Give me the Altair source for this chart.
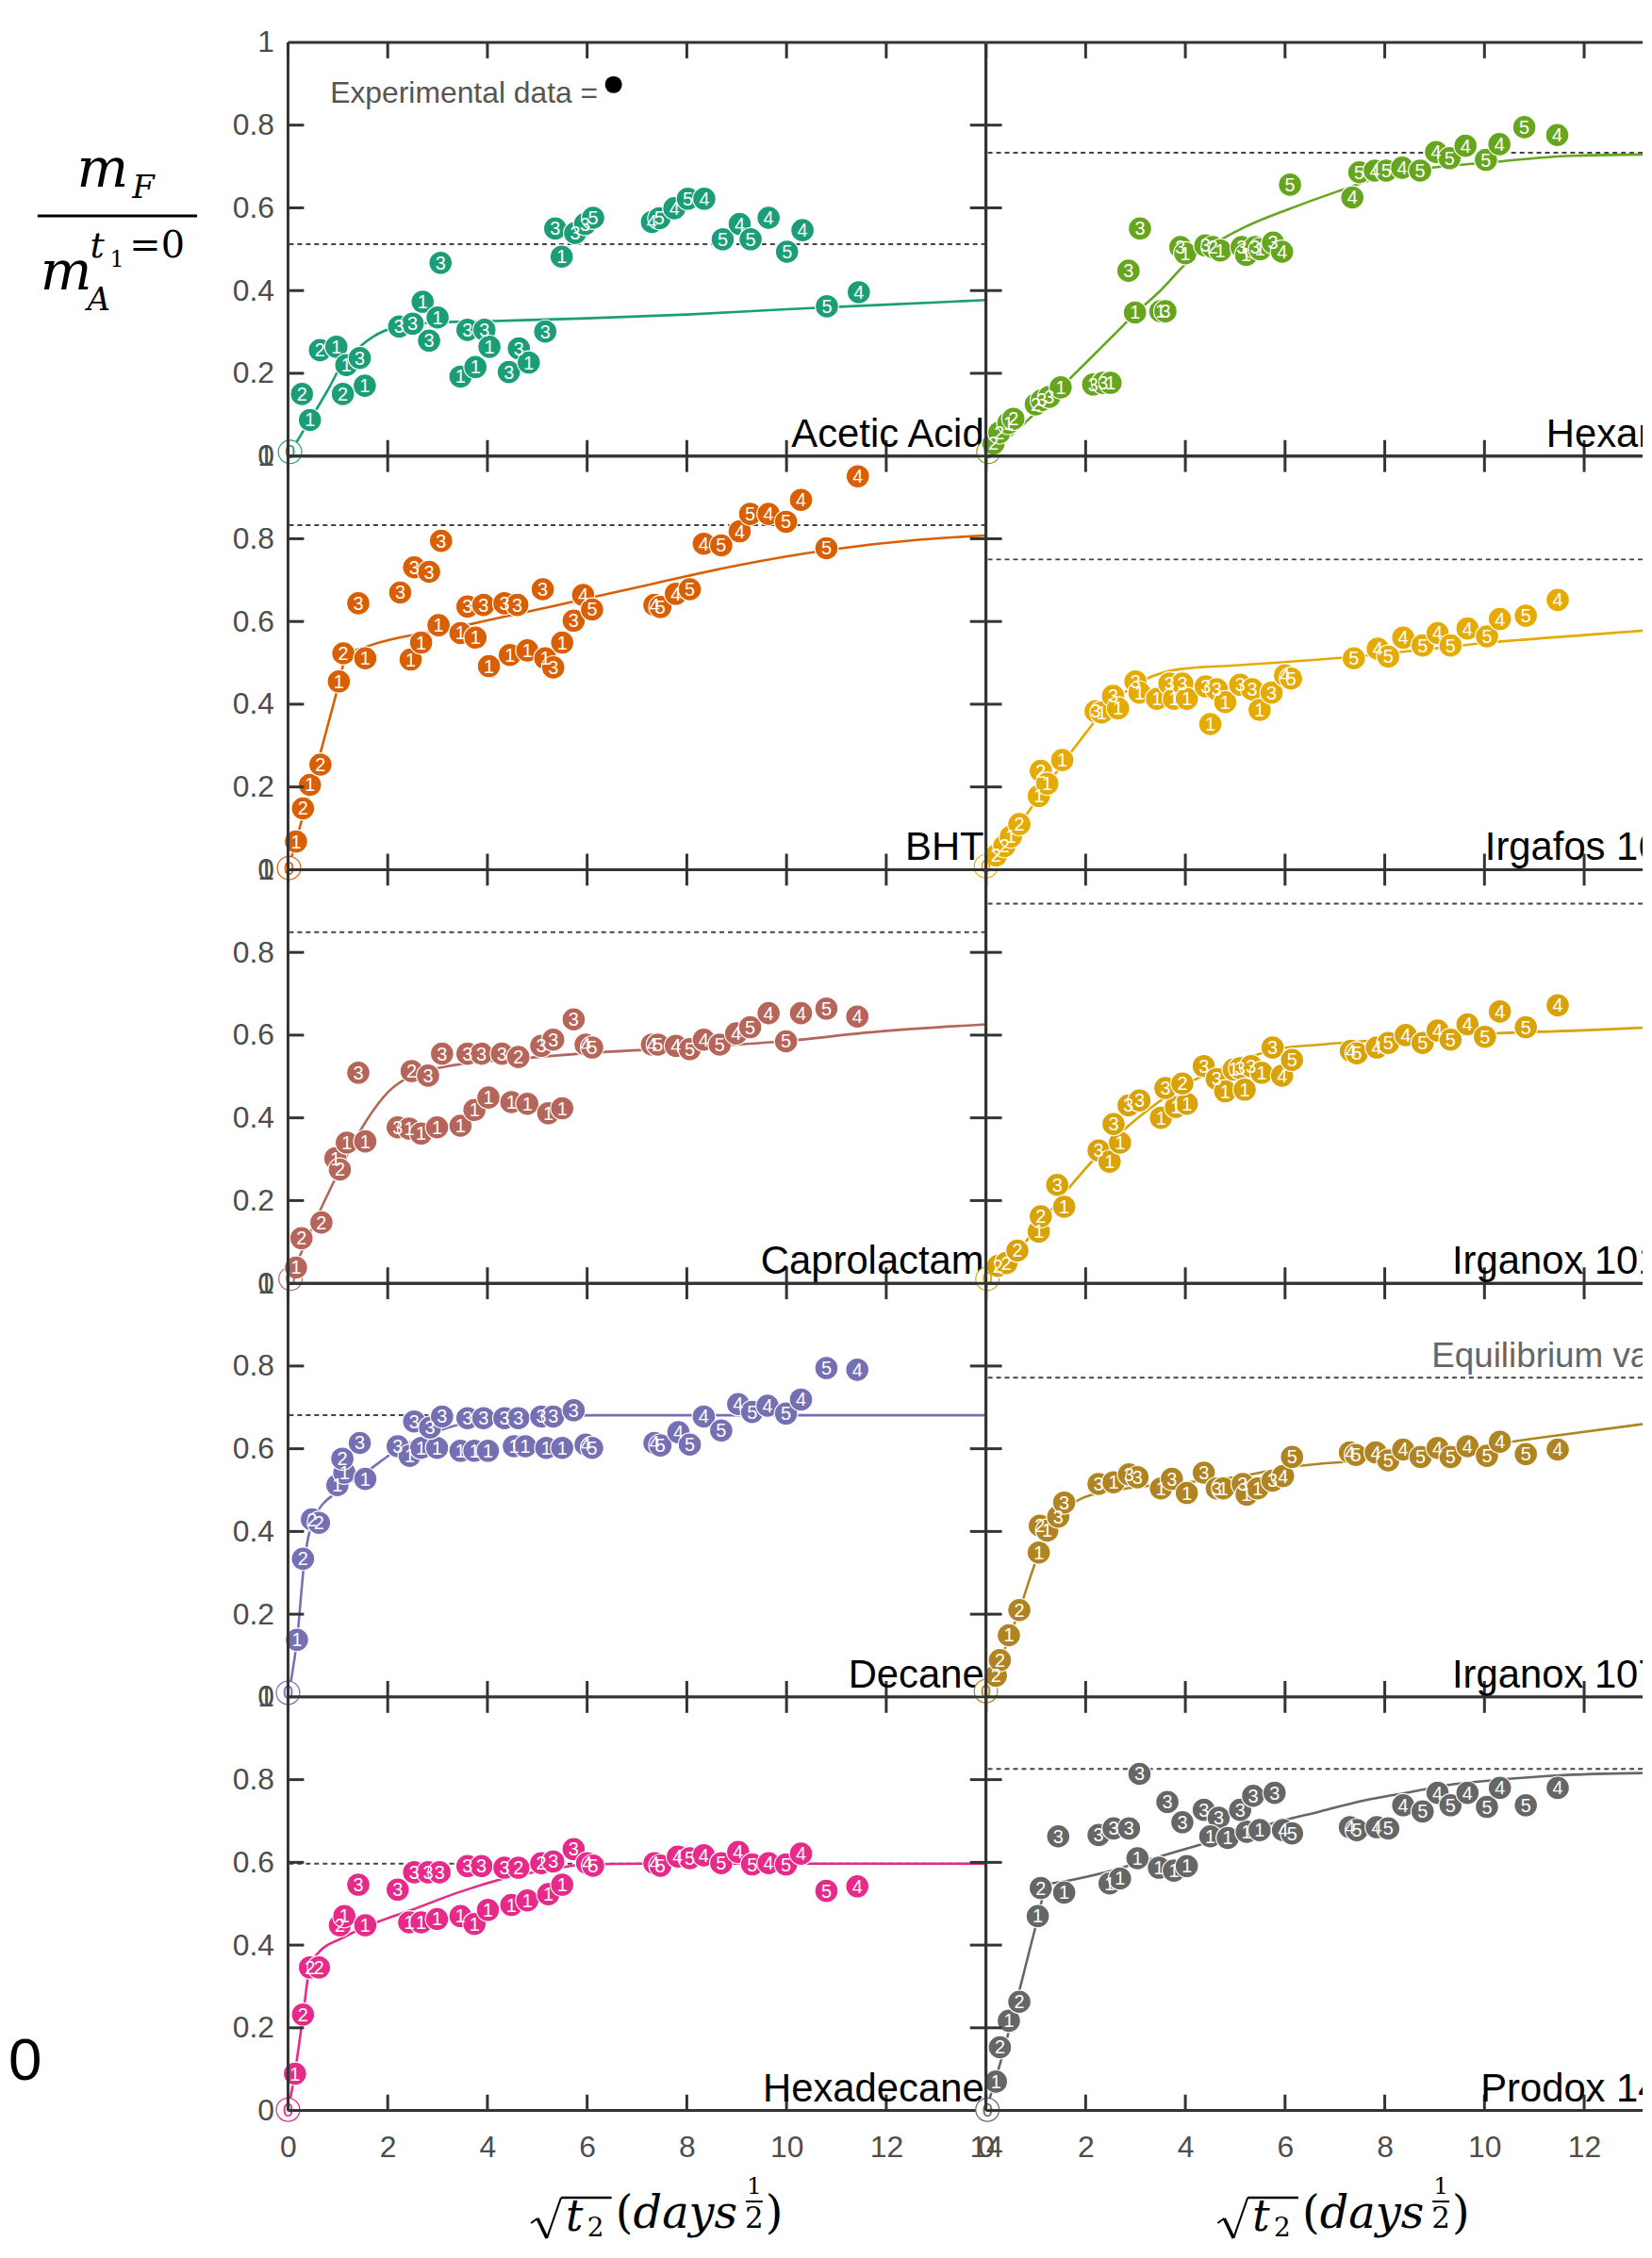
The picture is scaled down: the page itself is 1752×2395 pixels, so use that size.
import altair as alt
import pandas as pd

# ---------------- style constants ----------------
FONT = "Liberation Sans"
NARROW = "Liberation Sans Narrow, Liberation Sans"
MATH = "DejaVu Serif"
AXIS_GRAY = "#4d4d4d"
FRAME = "#333333"
PX = 744 / 14.0          # pixels per x unit
H = 441
W_LEFT = 744
W_RIGHT = 700
TICK = 17

# ---------------- data ----------------
X_TICKS = [0, 2, 4, 6, 8, 10, 12, 14]
Y_TICKS = [0.2, 0.4, 0.6, 0.8]
Y_LABELS = [0, 0.2, 0.4, 0.6, 0.8, 1]

NAMES = ["Acetic Acid", "Hexane", "BHT", "Irgafos 168", "Caprolactam",
         "Irganox 1010", "Decane", "Irganox 1076", "Hexadecane", "Prodox 146"]
COLORS = ["#1b9e77", "#66a61e", "#d95f02", "#e6ab02", "#b5655a",
          "#d9a307", "#7570b3", "#b08420", "#e7298a", "#666666"]
EQUILIBRIUM = [0.512, 0.733, 0.833, 0.750, 0.849, 0.918, 0.681, 0.772, 0.597, 0.826]

ACETIC_PTS = [
    (0.04, 0.01, "0"), (0.28, 0.15, "2"), (0.44, 0.087, "1"), (0.64, 0.256, "2"), (0.97, 0.264, "1"),
    (1.1, 0.15, "2"), (1.17, 0.22, "1"), (1.44, 0.237, "3"), (1.54, 0.17, "1"),
    (2.23, 0.313, "3"), (2.5, 0.32, "3"), (2.7, 0.373, "1"), (2.83, 0.279, "3"), (3.0, 0.335, "1"), (3.06, 0.467, "3"),
    (3.46, 0.192, "1"), (3.6, 0.305, "3"), (3.76, 0.215, "1"), (3.94, 0.305, "3"), (4.04, 0.264, "1"),
    (4.43, 0.203, "3"), (4.63, 0.26, "3"), (4.83, 0.226, "1"), (5.16, 0.301, "3"),
    (5.36, 0.55, "3"), (5.49, 0.482, "1"), (5.76, 0.539, "3"), (5.96, 0.561, "3"), (6.12, 0.576, "5"),
    (7.3, 0.566, "4"), (7.45, 0.575, "5"), (7.75, 0.599, "4"), (8.02, 0.622, "5"), (8.35, 0.622, "4"),
    (8.72, 0.524, "5"), (9.06, 0.561, "4"), (9.28, 0.524, "5"), (9.64, 0.576, "4"), (10.01, 0.494, "5"),
    (10.32, 0.546, "4"), (10.81, 0.362, "5"), (11.45, 0.396, "4")]
ACETIC_FIT_X = [0, 0.44, 0.8, 1.1, 1.4, 1.7, 2.2, 2.8, 4, 6, 8, 10, 12, 14]
ACETIC_FIT_Y = [0, 0.087, 0.16, 0.225, 0.26, 0.288, 0.313, 0.322, 0.326, 0.333, 0.342, 0.355, 0.366, 0.377]

HEXANE_PTS = [
    (0.05, 0.01, "0"), (0.15, 0.03, "2"), (0.27, 0.057, "2"), (0.45, 0.08, "1"), (0.55, 0.09, "2"),
    (1.0, 0.125, "2"), (1.12, 0.135, "3"), (1.27, 0.143, "3"), (1.5, 0.166, "1"),
    (2.15, 0.173, "3"), (2.35, 0.177, "3"), (2.5, 0.177, "1"), (2.86, 0.448, "3"), (2.99, 0.347, "1"),
    (3.09, 0.55, "3"), (3.5, 0.35, "1"), (3.6, 0.35, "3"),
    (3.9, 0.505, "3"), (4.0, 0.49, "1"), (4.4, 0.509, "3"), (4.55, 0.505, "2"), (4.7, 0.497, "1"),
    (5.13, 0.505, "3"), (5.22, 0.486, "1"), (5.4, 0.505, "3"), (5.5, 0.5, "1"), (5.76, 0.516, "3"),
    (5.94, 0.494, "4"), (6.1, 0.656, "5"),
    (7.35, 0.625, "4"), (7.49, 0.686, "5"), (7.8, 0.69, "4"), (8.03, 0.69, "5"), (8.35, 0.697, "4"),
    (8.71, 0.69, "5"), (9.03, 0.735, "4"), (9.3, 0.72, "5"), (9.62, 0.75, "4"), (10.03, 0.716, "5"),
    (10.3, 0.754, "4"), (10.8, 0.795, "5"), (11.46, 0.776, "4")]
HEXANE_FIT_X = [0, 0.5, 1, 1.5, 2, 2.5, 3, 3.5, 4.1, 4.6, 5.2, 6.3, 7.35, 8.1, 9, 9.94, 11.75, 13.2]
HEXANE_FIT_Y = [0, 0.05, 0.105, 0.165, 0.225, 0.285, 0.345, 0.4, 0.475, 0.515, 0.554, 0.607, 0.652,
                0.682, 0.698, 0.708, 0.726, 0.729]

BHT_PTS = [
    (0.02, 0.004, "0"), (0.16, 0.068, "1"), (0.3, 0.148, "2"), (0.44, 0.205, "1"), (0.65, 0.254, "2"),
    (1.02, 0.455, "1"), (1.11, 0.523, "2"), (1.55, 0.511, "1"), (1.41, 0.644, "3"),
    (2.25, 0.67, "3"), (2.46, 0.508, "1"), (2.67, 0.549, "1"), (2.53, 0.731, "3"), (2.83, 0.72, "3"),
    (3.07, 0.795, "3"), (3.02, 0.591, "1"), (3.46, 0.572, "1"), (3.76, 0.561, "1"),
    (3.6, 0.636, "3"), (3.92, 0.64, "3"), (4.34, 0.644, "3"), (4.6, 0.64, "3"), (5.11, 0.678, "3"),
    (4.03, 0.492, "1"), (4.45, 0.519, "1"), (4.8, 0.53, "1"), (5.16, 0.511, "1"), (5.32, 0.489, "3"),
    (5.5, 0.549, "1"), (5.73, 0.602, "3"), (5.92, 0.664, "4"), (6.1, 0.629, "5"),
    (7.35, 0.64, "4"), (7.47, 0.635, "5"), (7.78, 0.667, "4"), (8.06, 0.678, "5"), (8.34, 0.788, "4"),
    (8.69, 0.784, "5"), (9.06, 0.818, "4"), (9.27, 0.86, "5"), (9.64, 0.86, "4"), (9.99, 0.841, "5"),
    (10.29, 0.894, "4"), (10.8, 0.777, "5"), (11.43, 0.951, "4")]
BHT_FIT_X = [0, 0.3, 0.6, 1.0, 1.18, 1.55, 3.41, 5.27, 7.13, 8.99, 10.85, 12.7, 14]
BHT_FIT_Y = [0, 0.13, 0.26, 0.44, 0.52, 0.538, 0.587, 0.636, 0.686, 0.735, 0.773, 0.798, 0.808]

IRGAFOS_PTS = [
    (0.0, 0.008, "0"), (0.2, 0.034, "2"), (0.37, 0.057, "2"), (0.5, 0.08, "1"), (0.67, 0.11, "2"),
    (1.06, 0.178, "1"), (1.1, 0.239, "2"), (1.23, 0.208, "1"), (1.53, 0.265, "1"),
    (2.2, 0.383, "3"), (2.32, 0.38, "1"), (2.55, 0.42, "3"), (2.65, 0.39, "1"), (3.0, 0.455, "3"),
    (3.08, 0.428, "1"), (3.43, 0.413, "1"), (3.68, 0.45, "3"), (3.77, 0.413, "1"), (3.94, 0.45, "3"),
    (4.03, 0.413, "1"), (4.41, 0.443, "3"), (4.5, 0.352, "1"), (4.63, 0.436, "3"), (4.8, 0.405, "1"),
    (5.1, 0.447, "3"), (5.34, 0.436, "3"), (5.49, 0.386, "1"), (5.73, 0.428, "3"), (6.0, 0.47, "4"),
    (6.12, 0.462, "5"),
    (7.38, 0.511, "5"), (7.86, 0.534, "4"), (8.07, 0.515, "5"), (8.37, 0.561, "4"), (8.76, 0.542, "5"),
    (9.06, 0.572, "4"), (9.32, 0.542, "5"), (9.66, 0.583, "4"), (10.05, 0.564, "5"), (10.31, 0.606, "4"),
    (10.83, 0.614, "5"), (11.47, 0.652, "4")]
IRGAFOS_FIT_X = [0, 0.5, 1, 1.5, 2, 2.4, 2.8, 3.2, 3.9, 5, 6, 7.4, 9, 10.1, 12, 13.2]
IRGAFOS_FIT_Y = [0, 0.08, 0.165, 0.25, 0.33, 0.39, 0.43, 0.46, 0.485, 0.494, 0.502, 0.515, 0.535,
                 0.549, 0.567, 0.578]

CAPRO_PTS = [
    (0.05, 0.011, "0"), (0.16, 0.038, "1"), (0.27, 0.109, "2"), (0.67, 0.147, "2"), (0.95, 0.302, "1"),
    (1.04, 0.275, "2"), (1.18, 0.34, "1"), (1.55, 0.343, "1"), (1.41, 0.509, "3"),
    (2.48, 0.513, "2"), (2.81, 0.502, "3"), (3.09, 0.555, "3"), (3.6, 0.555, "3"), (3.88, 0.555, "3"),
    (4.29, 0.555, "3"), (4.62, 0.547, "2"), (5.08, 0.574, "3"), (5.32, 0.589, "3"), (5.73, 0.638, "3"),
    (5.97, 0.577, "4"), (6.1, 0.57, "5"),
    (7.3, 0.577, "4"), (7.42, 0.577, "5"), (7.78, 0.574, "4"), (8.06, 0.566, "5"), (8.34, 0.589, "4"),
    (8.66, 0.577, "5"), (8.99, 0.604, "4"), (9.27, 0.619, "5"), (9.64, 0.653, "4"), (9.99, 0.585, "5"),
    (10.29, 0.653, "4"), (10.8, 0.664, "5"), (11.42, 0.645, "4"),
    (2.2, 0.377, "3"), (2.43, 0.374, "1"), (2.67, 0.362, "1"), (2.99, 0.377, "1"), (3.46, 0.381, "1"),
    (3.74, 0.419, "1"), (4.02, 0.449, "1"), (4.48, 0.438, "1"), (4.8, 0.434, "1"), (5.22, 0.411, "1"),
    (5.5, 0.423, "1")]
CAPRO_FIT_X = [0, 0.62, 1.04, 1.55, 2.02, 2.48, 3.22, 4.34, 6.2, 8.06, 9.92, 11.8, 14]
CAPRO_FIT_Y = [0, 0.17, 0.275, 0.389, 0.464, 0.502, 0.525, 0.54, 0.558, 0.57, 0.585, 0.608, 0.626]

IRGANOX1010_PTS = [
    (0.03, 0.011, "0"), (0.24, 0.042, "2"), (0.41, 0.049, "2"), (0.63, 0.079, "2"), (1.06, 0.125, "1"),
    (1.1, 0.162, "2"), (1.43, 0.238, "3"), (1.57, 0.185, "1"),
    (2.26, 0.321, "3"), (2.48, 0.294, "1"), (2.69, 0.34, "1"), (2.56, 0.385, "3"), (2.86, 0.43, "3"),
    (3.08, 0.442, "3"), (3.51, 0.4, "1"), (3.81, 0.426, "1"), (4.03, 0.434, "1"), (3.6, 0.472, "3"),
    (3.94, 0.483, "2"), (4.37, 0.525, "3"), (4.63, 0.494, "3"), (4.8, 0.464, "1"), (4.97, 0.517, "1"),
    (5.1, 0.52, "3"), (5.32, 0.525, "3"), (5.19, 0.468, "1"), (5.53, 0.509, "1"), (5.75, 0.57, "3"),
    (5.94, 0.502, "4"), (6.14, 0.54, "5"),
    (7.32, 0.562, "4"), (7.44, 0.556, "5"), (7.84, 0.57, "4"), (8.07, 0.581, "5"), (8.42, 0.6, "4"),
    (8.76, 0.581, "5"), (9.06, 0.611, "4"), (9.32, 0.589, "5"), (9.66, 0.626, "4"), (10.01, 0.596, "5"),
    (10.31, 0.657, "4"), (10.83, 0.619, "5"), (11.47, 0.672, "4")]
IRGANOX1010_FIT_X = [0, 0.5, 1, 1.53, 2.39, 3.25, 4.11, 4.97, 5.83, 6.7, 8.42, 10.1, 11.86, 13.2]
IRGANOX1010_FIT_Y = [0, 0.06, 0.13, 0.211, 0.328, 0.419, 0.487, 0.532, 0.566, 0.577, 0.592, 0.604,
                     0.611, 0.618]

DECANE_PTS = [
    (0.0, 0.01, "0"), (0.18, 0.138, "1"), (0.3, 0.334, "2"), (0.48, 0.429, "2"), (0.62, 0.421, "2"),
    (0.99, 0.512, "1"), (1.13, 0.542, "1"), (1.09, 0.576, "2"), (1.44, 0.614, "3"), (1.55, 0.527, "1"),
    (2.2, 0.606, "3"), (2.44, 0.583, "1"), (2.67, 0.602, "1"), (2.99, 0.602, "1"), (3.46, 0.595, "1"),
    (3.74, 0.595, "1"), (4.01, 0.595, "1"), (4.53, 0.606, "1"), (4.76, 0.606, "1"), (5.18, 0.602, "1"),
    (5.5, 0.602, "1"), (5.97, 0.61, "4"), (6.1, 0.602, "5"),
    (2.53, 0.666, "3"), (2.85, 0.651, "3"), (3.09, 0.678, "3"), (3.6, 0.674, "3"), (3.92, 0.674, "3"),
    (4.34, 0.674, "3"), (4.62, 0.674, "3"), (5.08, 0.678, "3"), (5.32, 0.678, "3"), (5.73, 0.693, "3"),
    (7.35, 0.614, "4"), (7.47, 0.608, "5"), (7.83, 0.64, "4"), (8.06, 0.61, "5"), (8.34, 0.678, "4"),
    (8.69, 0.644, "5"), (9.03, 0.708, "4"), (9.31, 0.689, "5"), (9.62, 0.704, "4"), (9.99, 0.685, "5"),
    (10.29, 0.719, "4"), (10.8, 0.795, "5"), (11.42, 0.791, "4")]
DECANE_FIT_X = [0, 0.18, 0.33, 0.53, 0.99, 1.55, 2.2, 2.95, 3.88, 4.8, 6.2, 14]
DECANE_FIT_Y = [0, 0.138, 0.33, 0.432, 0.497, 0.542, 0.598, 0.64, 0.67, 0.679, 0.681, 0.681]

IRGANOX1076_PTS = [
    (0.0, 0.014, "0"), (0.2, 0.051, "2"), (0.28, 0.089, "2"), (0.46, 0.149, "1"), (0.67, 0.21, "2"),
    (1.06, 0.349, "1"), (1.08, 0.414, "2"), (1.23, 0.402, "1"), (1.45, 0.436, "3"), (1.57, 0.47, "3"),
    (2.26, 0.515, "3"), (2.56, 0.519, "1"), (2.87, 0.538, "3"), (3.04, 0.531, "3"), (3.51, 0.504, "1"),
    (3.73, 0.527, "3"), (4.03, 0.493, "1"), (4.37, 0.542, "3"), (4.63, 0.504, "3"), (4.76, 0.504, "1"),
    (5.15, 0.515, "3"), (5.23, 0.489, "1"), (5.45, 0.504, "1"), (5.75, 0.523, "3"), (5.96, 0.534, "4"),
    (6.14, 0.58, "5"),
    (7.3, 0.591, "4"), (7.42, 0.585, "5"), (7.82, 0.591, "4"), (8.07, 0.572, "5"), (8.37, 0.598, "4"),
    (8.72, 0.58, "5"), (9.06, 0.602, "4"), (9.32, 0.58, "5"), (9.66, 0.606, "4"), (10.05, 0.583, "5"),
    (10.31, 0.617, "4"), (10.83, 0.587, "5"), (11.47, 0.598, "4")]
IRGANOX1076_FIT_X = [0, 0.67, 1.06, 1.53, 1.96, 2.82, 3.68, 4.97, 6.18, 7.56, 9.28, 11.0, 13.2]
IRGANOX1076_FIT_Y = [0, 0.21, 0.346, 0.444, 0.482, 0.504, 0.515, 0.531, 0.557, 0.572, 0.595, 0.625, 0.66]

HEXADECANE_PTS = [
    (0.0, 0.002, "0"), (0.14, 0.089, "1"), (0.3, 0.232, "2"), (0.44, 0.346, "2"), (0.62, 0.346, "2"),
    (1.04, 0.448, "2"), (1.13, 0.47, "1"), (1.55, 0.448, "1"), (1.41, 0.546, "3"),
    (2.2, 0.534, "3"), (2.53, 0.576, "3"), (2.81, 0.576, "3"), (3.04, 0.576, "3"), (3.6, 0.591, "3"),
    (3.88, 0.591, "3"), (4.34, 0.587, "3"), (4.62, 0.587, "2"), (5.08, 0.598, "2"), (5.32, 0.602, "3"),
    (5.73, 0.632, "3"), (6.0, 0.598, "4"), (6.12, 0.592, "5"),
    (2.43, 0.455, "1"), (2.67, 0.455, "1"), (2.99, 0.463, "1"), (3.46, 0.47, "1"), (3.74, 0.451, "1"),
    (4.01, 0.485, "1"), (4.48, 0.497, "1"), (4.8, 0.508, "1"), (5.22, 0.523, "1"), (5.5, 0.546, "1"),
    (7.35, 0.598, "4"), (7.47, 0.592, "5"), (7.82, 0.614, "4"), (8.06, 0.61, "5"), (8.34, 0.617, "4"),
    (8.69, 0.598, "5"), (9.03, 0.625, "4"), (9.31, 0.595, "5"), (9.64, 0.598, "4"), (9.99, 0.595, "5"),
    (10.29, 0.621, "4"), (10.8, 0.531, "5"), (11.42, 0.542, "4")]
HEXADECANE_FIT_X = [0, 0.14, 0.3, 0.44, 0.62, 1.09, 1.55, 2.48, 3.41, 4.34, 5.27, 5.97, 7.13, 14]
HEXADECANE_FIT_Y = [0, 0.093, 0.229, 0.349, 0.383, 0.417, 0.444, 0.485, 0.527, 0.561, 0.583, 0.595,
                    0.597, 0.597]

PRODOX_PTS = [
    (0.03, 0.002, "0"), (0.2, 0.07, "1"), (0.28, 0.153, "2"), (0.46, 0.217, "1"), (0.67, 0.263, "2"),
    (1.04, 0.47, "1"), (1.1, 0.538, "2"), (1.57, 0.527, "1"),
    (1.45, 0.663, "3"), (2.26, 0.666, "3"), (2.56, 0.682, "3"), (2.87, 0.682, "3"), (3.08, 0.814, "3"),
    (2.48, 0.549, "1"), (2.69, 0.561, "1"), (3.04, 0.61, "1"), (3.47, 0.587, "1"), (3.77, 0.58, "1"),
    (4.03, 0.591, "1"), (3.64, 0.746, "3"), (3.94, 0.697, "3"), (4.37, 0.727, "3"), (4.67, 0.708, "3"),
    (4.5, 0.663, "1"), (4.85, 0.659, "1"), (5.23, 0.674, "1"), (5.49, 0.678, "1"), (5.1, 0.727, "3"),
    (5.36, 0.761, "3"), (5.79, 0.768, "3"), (5.96, 0.678, "4"), (6.14, 0.67, "5"),
    (7.3, 0.685, "4"), (7.44, 0.678, "5"), (7.84, 0.685, "4"), (8.07, 0.682, "5"), (8.37, 0.738, "4"),
    (8.76, 0.723, "5"), (9.06, 0.768, "4"), (9.32, 0.738, "5"), (9.66, 0.768, "4"), (10.05, 0.734, "5"),
    (10.31, 0.78, "4"), (10.83, 0.738, "5"), (11.47, 0.78, "4")]
PRODOX_FIT_X = [0, 0.3, 0.67, 1.02, 1.23, 1.53, 2.39, 3.25, 4.11, 4.97, 5.83, 6.7, 7.56, 8.42, 9.28,
                10.14, 11.43, 13.2]
PRODOX_FIT_Y = [0, 0.12, 0.29, 0.455, 0.546, 0.553, 0.576, 0.606, 0.636, 0.666, 0.697, 0.723, 0.749,
                0.768, 0.787, 0.798, 0.81, 0.816]

POINTS = [ACETIC_PTS, HEXANE_PTS, BHT_PTS, IRGAFOS_PTS, CAPRO_PTS,
          IRGANOX1010_PTS, DECANE_PTS, IRGANOX1076_PTS, HEXADECANE_PTS, PRODOX_PTS]
FITS = [(ACETIC_FIT_X, ACETIC_FIT_Y), (HEXANE_FIT_X, HEXANE_FIT_Y), (BHT_FIT_X, BHT_FIT_Y),
        (IRGAFOS_FIT_X, IRGAFOS_FIT_Y), (CAPRO_FIT_X, CAPRO_FIT_Y),
        (IRGANOX1010_FIT_X, IRGANOX1010_FIT_Y), (DECANE_FIT_X, DECANE_FIT_Y),
        (IRGANOX1076_FIT_X, IRGANOX1076_FIT_Y), (HEXADECANE_FIT_X, HEXADECANE_FIT_Y),
        (PRODOX_FIT_X, PRODOX_FIT_Y)]


# ---------------- helpers ----------------
def one_row():
    return pd.DataFrame({"k": [0]})


def deco_text(text, x, y, size, font=FONT, color="black", style="normal",
              align="left", baseline="alphabetic", clip=False):
    return alt.Chart(one_row()).mark_text(
        text=text, font=font, fontSize=size, fontStyle=style, color=color,
        align=align, baseline=baseline, clip=clip
    ).encode(x=alt.value(x), y=alt.value(y))


def deco_rule(x, y, x2, y2, color="black", width=2, opacity=1.0):
    return alt.Chart(one_row()).mark_rule(
        color=color, strokeWidth=width, strokeOpacity=opacity
    ).encode(x=alt.value(x), y=alt.value(y), x2=alt.value(x2), y2=alt.value(y2))


def x_title(dx):
    return [
        deco_rule(259 + dx, 561, 266 + dx, 556, width=2),
        deco_rule(266 + dx, 556, 276 + dx, 577, width=3.5),
        deco_rule(276 + dx, 577, 291 + dx, 534, width=2),
        deco_rule(291 + dx, 534, 345 + dx, 534, width=2.5),
        deco_text("t", 296 + dx, 569, 46, MATH, style="italic"),
        deco_text("2", 319 + dx, 575, 28, MATH),
        deco_text("(", 349 + dx, 566, 48, MATH),
        deco_text("days", 368 + dx, 566, 48, MATH, style="italic"),
        deco_text("1", 497 + dx, 530, 25, MATH, align="center"),
        deco_rule(488 + dx, 538, 506 + dx, 538, width=2),
        deco_text("2", 497 + dx, 566, 31, MATH, align="center"),
        deco_text(")", 509 + dx, 566, 48, MATH),
    ]


def panel(i):
    row, col = divmod(i, 2)
    W = W_LEFT if col == 0 else W_RIGHT
    xmax = 14.0 if col == 0 else W_RIGHT / PX
    color = COLORS[i]
    bottom = row == 4

    xs = alt.Scale(domain=[0, xmax], nice=False, zero=False)
    ys = alt.Scale(domain=[0, 1], nice=False, zero=False)
    if bottom:
        xaxis = alt.Axis(values=[t for t in X_TICKS if t <= xmax + 1e-9], ticks=False, domain=False,
                         grid=False, labelPadding=24, labelFontSize=32, labelColor=AXIS_GRAY,
                         labelFont=FONT, title=None, labelFlush=False, labelOverlap=False)
    else:
        xaxis = None
    if col == 0:
        yaxis = alt.Axis(values=Y_LABELS, format="~g", ticks=False, domain=False, grid=False,
                         labelPadding=15, labelFontSize=32, labelColor=AXIS_GRAY, labelFont=FONT,
                         title=None, labelFlush=False, labelOverlap=False)
    else:
        yaxis = None

    def X():
        return alt.X("x:Q", scale=xs, axis=xaxis)

    def Y():
        return alt.Y("y:Q", scale=ys, axis=yaxis)

    pts = pd.DataFrame(POINTS[i], columns=["x", "y", "n"])
    fx, fy = FITS[i]
    fit = pd.DataFrame({"x": fx, "y": fy})
    eq = pd.DataFrame({"y": [EQUILIBRIUM[i]]})
    xt = pd.DataFrame({"x": [t for t in X_TICKS if t <= xmax + 1e-9]})
    yt = pd.DataFrame({"y": Y_TICKS})

    is_zero = alt.datum.n == "0"
    layers = [
        alt.Chart(eq).mark_rule(color="#444444", strokeWidth=2, strokeDash=[5, 4]).encode(y=Y()),
        alt.Chart(fit).mark_line(color=color, strokeWidth=2.6, interpolate="monotone", clip=True)
        .encode(x=X(), y=Y()),
        alt.Chart(pts).mark_circle(size=620, opacity=1, strokeWidth=1.2).encode(
            x=X(), y=Y(),
            fill=alt.condition(is_zero, alt.value("white"), alt.value(color)),
            stroke=alt.condition(is_zero, alt.value(color), alt.value("white")),
        ),
        alt.Chart(pts).mark_text(font=FONT, fontSize=20, baseline="middle", align="center", dy=1)
        .encode(x=X(), y=Y(), text="n:N",
                color=alt.condition(is_zero, alt.value(color), alt.value("white"))),
        # inward ticks
        alt.Chart(xt).mark_rule(color=FRAME, strokeWidth=3)
        .encode(x=X(), y=alt.value(0), y2=alt.value(TICK)),
        alt.Chart(xt).mark_rule(color=FRAME, strokeWidth=3)
        .encode(x=X(), y=alt.value(H - TICK), y2=alt.value(H)),
        alt.Chart(yt).mark_rule(color=FRAME, strokeWidth=3)
        .encode(y=Y(), x=alt.value(0), x2=alt.value(TICK)),
        # frame
        deco_rule(0, 0, W, 0, FRAME, 3),
        deco_rule(0, H, W, H, FRAME, 3),
        deco_rule(0, 0, 0, H, FRAME, 3),
        # compound name
        deco_text(NAMES[i], 14 * PX - 2, H - 10, 42, FONT, align="right", clip=True),
    ]
    if col == 0:
        layers.append(alt.Chart(yt).mark_rule(color=FRAME, strokeWidth=3)
                      .encode(y=Y(), x=alt.value(W - TICK), x2=alt.value(W)))
        layers.append(deco_rule(W, 0, W, H, FRAME, 3))

    if i == 0:
        layers += [
            deco_rule(-298, -30, -290, -30, "white", 1, opacity=0),
            deco_text("m", -225, 154, 58, MATH, style="italic"),
            deco_text("F", -166, 166, 34, MATH, style="italic"),
            deco_rule(-267, 185, -97, 185, "black", 3),
            deco_text("m", -264, 263, 58, MATH, style="italic"),
            deco_text("A", -214, 285, 34, MATH, style="italic"),
            deco_text("t", -211, 229, 38, MATH, style="italic"),
            deco_text("1", -190, 239, 24, MATH),
            deco_text("=0", -169, 229, 40, MATH),
            deco_text("Experimental data =", 45, 64, 32, NARROW, color="#555555"),
            alt.Chart(one_row()).mark_circle(size=330, color="black", opacity=1)
            .encode(x=alt.value(347), y=alt.value(45)),
        ]
    if i == 7:
        layers.append(deco_text("Equilibrium value", 475, 89, 37, NARROW, color="#666666", clip=True))
    if i == 8:
        layers.append(deco_text("0", -298, 408, 64, NARROW))
        layers += x_title(0)
    if i == 9:
        layers += x_title(-12)

    return alt.layer(*layers).properties(width=W, height=H)


charts = [panel(i) for i in range(10)]

chart = alt.concat(*charts, columns=2, spacing=0, bounds="flush").properties(
    padding={"left": 0, "top": 0, "right": 0, "bottom": 0}
).configure_view(stroke="transparent")

chart.save("out.html", embed_options={"renderer": "svg", "actions": False})
